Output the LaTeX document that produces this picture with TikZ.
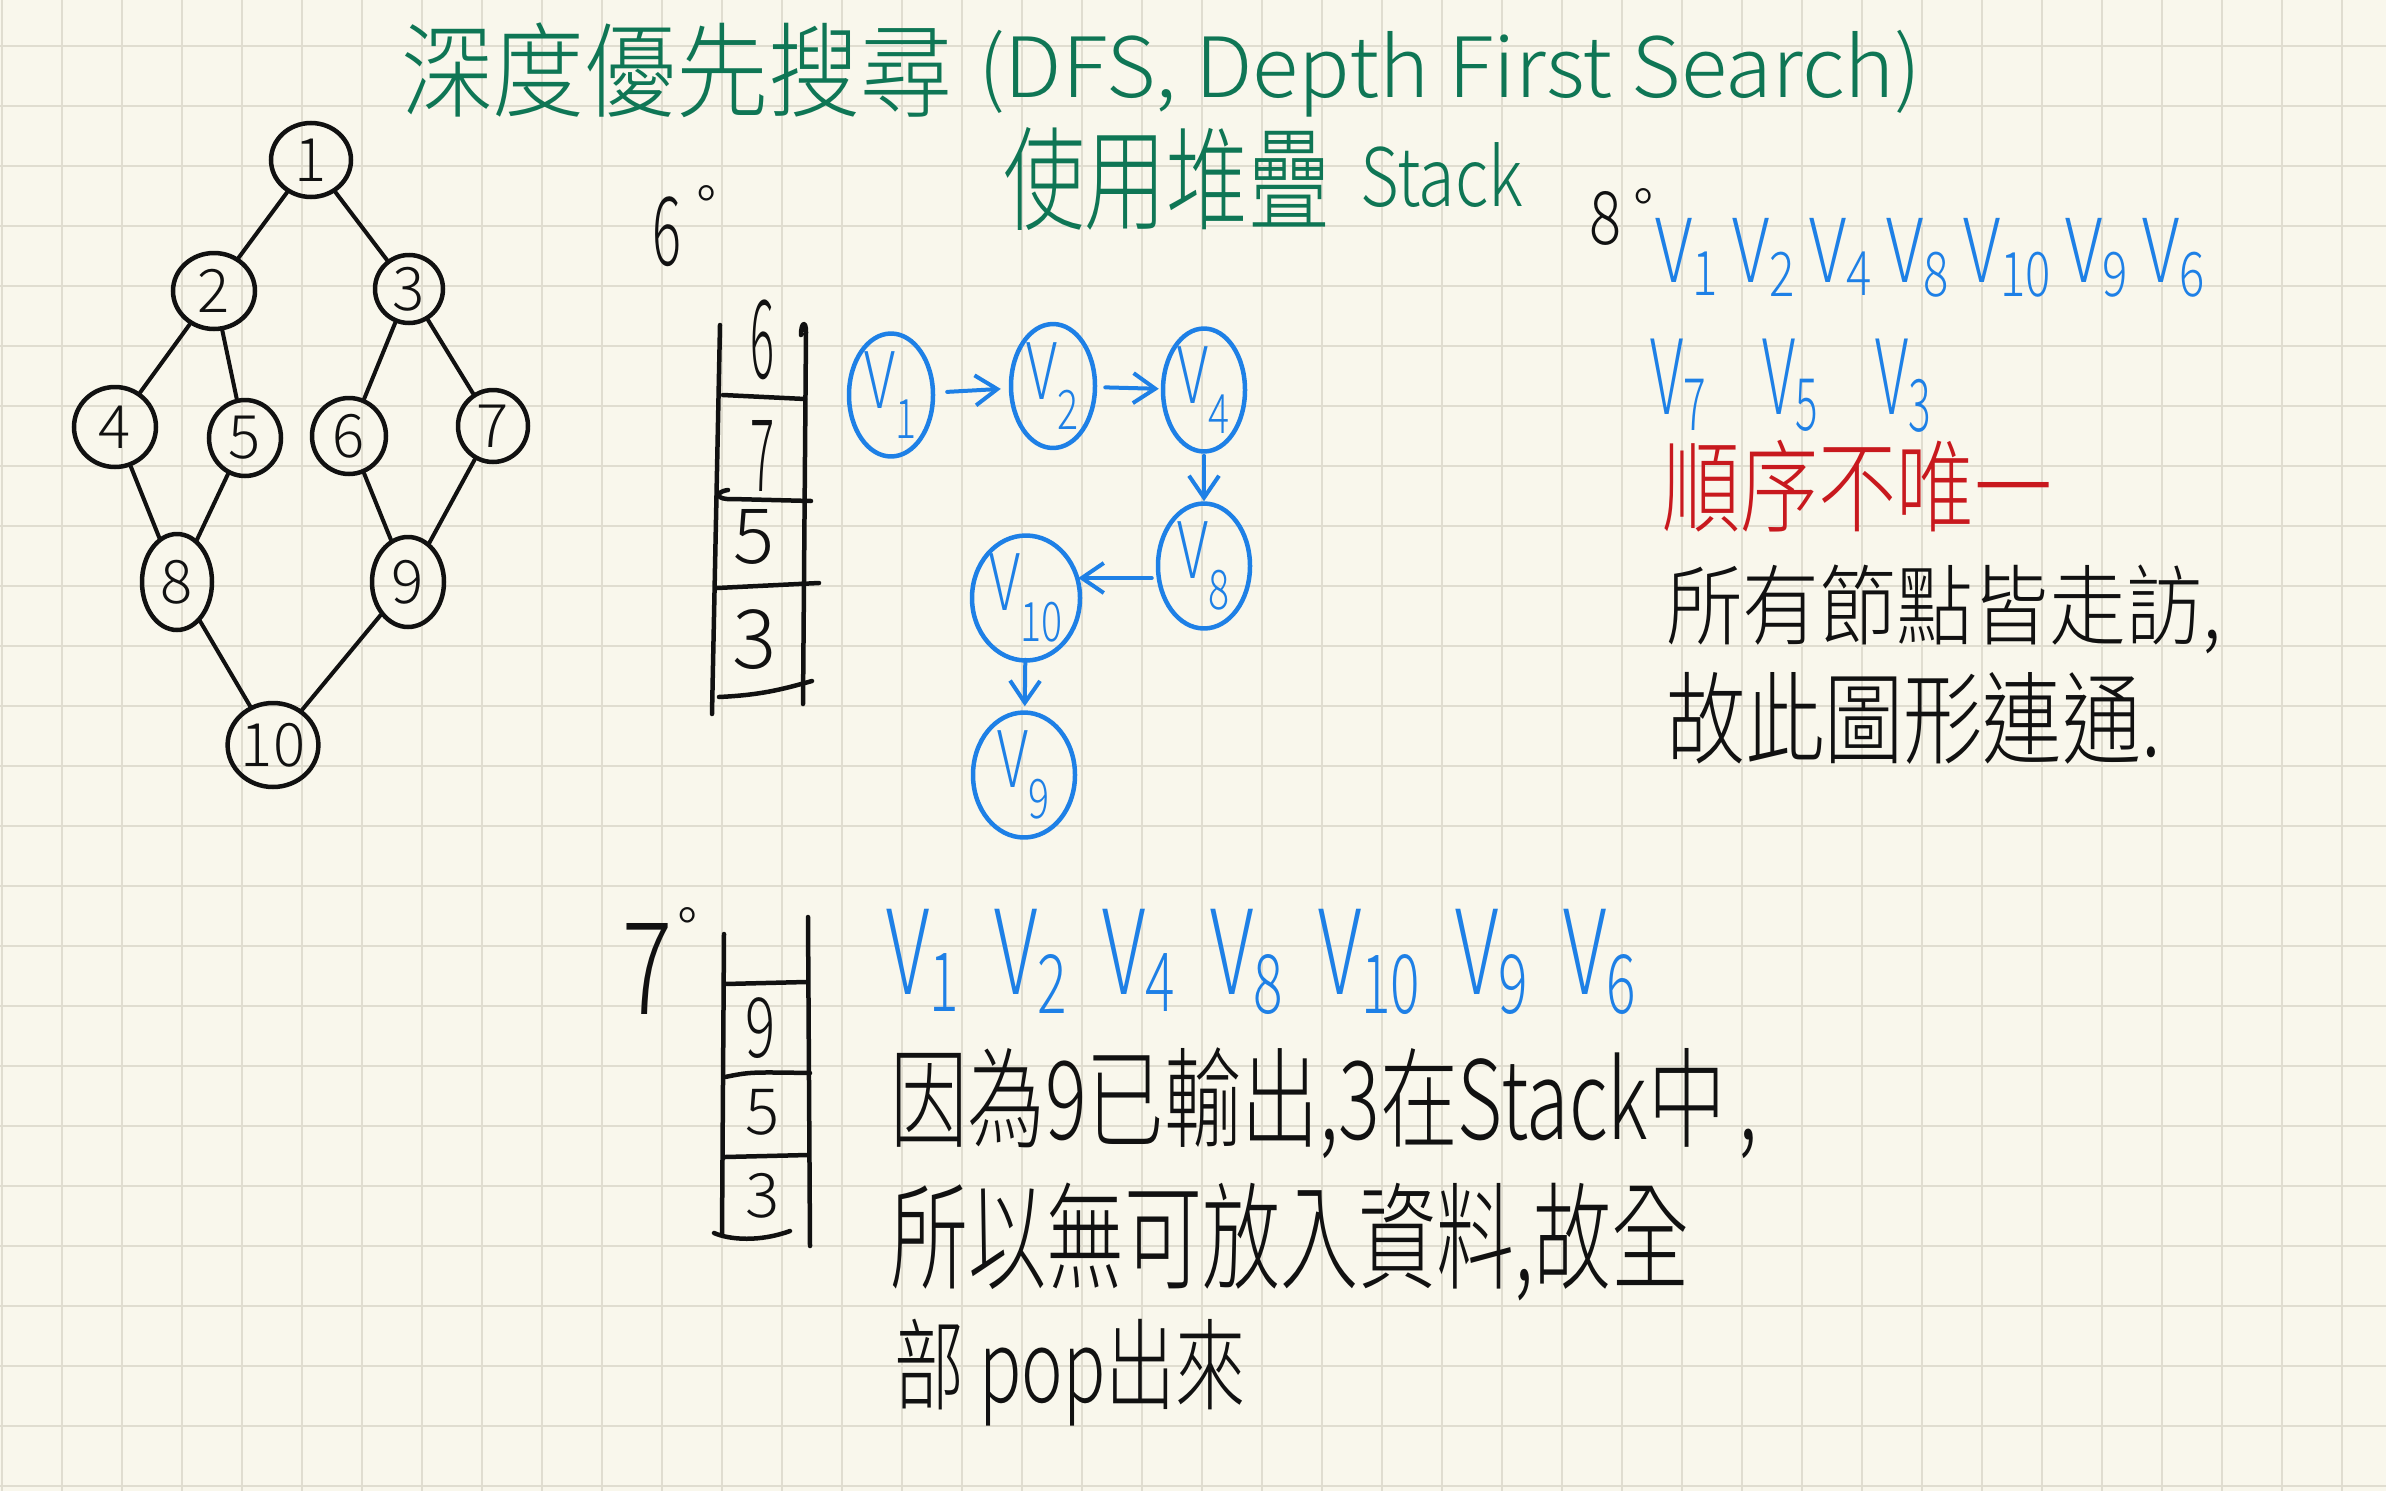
\documentclass[tikz,border=0pt]{standalone}
\usepackage{fontspec}
\usepackage{graphicx}
\IfFontExistsTF{Noto Sans CJK TC Light}
  {\setmainfont{Noto Sans CJK TC Light}}
  {\IfFontExistsTF{Noto Sans CJK TC DemiLight}
     {\setmainfont{Noto Sans CJK TC DemiLight}}
     {\setmainfont{Noto Sans CJK TC}}}
\usetikzlibrary{shapes.geometric,arrows.meta}
\definecolor{paper}{HTML}{F9F7EC}
\definecolor{gridc}{HTML}{E0DDD0}
\definecolor{titleg}{HTML}{0F7655}
\definecolor{penblue}{HTML}{1E80E6}
\definecolor{penred}{HTML}{C8191E}
\definecolor{ink}{HTML}{111111}
\newcommand\fitbox[3]{\resizebox*{#1pt}{#2pt}{#3}}
\newcommand\Vs[1]{V\textsubscript{#1}}
\newcommand\Vlab[1]{\scalebox{0.72}[1]{\Vs{#1}}}
\begin{document}
\begin{tikzpicture}[x=1pt,y=-1pt,
  txt/.style={inner sep=0pt,outer sep=0pt,anchor=north west},
  deg/.style={inner sep=0pt,outer sep=0pt,anchor=north,text=ink,font=\fontsize{58}{58}\selectfont},
  tnode/.style={ellipse,draw=ink,line width=4.5pt,inner sep=0pt,text=ink,font=\fontsize{60}{60}\selectfont},
  tedge/.style={draw=ink,line width=4pt,line cap=round},
  bnode/.style={ellipse,draw=penblue,line width=4.5pt,inner sep=0pt,text=penblue,font=\fontsize{78}{78}\selectfont},
  barrow/.style={draw=penblue,line width=4pt,line cap=round,-{Straight Barb[length=22pt,width=30pt]}},
  pen/.style={draw=ink,line width=4.5pt,line cap=round,line join=round}]

\fill[paper] (0,0) rectangle (2386,1491);
\useasboundingbox (0,0) rectangle (2386,1491);
\foreach \i in {0,...,39} \draw[gridc,line width=2.2pt] ({2+60*\i},0) -- ++(0,1491);
\foreach \j in {0,...,24} \draw[gridc,line width=2.2pt] (0,{46+60*\j}) -- ++(2386,0);

% ---------- title ----------
\node[txt,text=titleg] (t1) at (401,23) {\fitbox{551}{95}{深度優先搜尋}};
\node[txt,text=titleg] (t2) at (978,30) {\fitbox{943}{87}{(DFS, Depth First Search)}};
\node[txt,text=titleg] (t3) at (1003,127) {\fitbox{327}{103}{使用堆疊}};
\node[txt,text=titleg] (t4) at (1360,143) {\fitbox{163}{65}{Stack}};

% ---------- tree ----------
\node[tnode,minimum width=80pt,minimum height=74pt] (n1) at (311,160) {1};
\node[tnode,minimum width=82pt,minimum height=76pt] (n2) at (214,291) {2};
\node[tnode,minimum width=68pt,minimum height=68pt] (n3) at (409,289) {3};
\node[tnode,minimum width=82pt,minimum height=80pt] (n4) at (115,427) {4};
\node[tnode,minimum width=72pt,minimum height=76pt] (n5) at (245,438) {5};
\node[tnode,minimum width=74pt,minimum height=76pt] (n6) at (349,436) {6};
\node[tnode,minimum width=70pt,minimum height=72pt] (n7) at (493,426) {7};
\node[tnode,minimum width=70pt,minimum height=96pt] (n8) at (177,582) {8};
\node[tnode,minimum width=72pt,minimum height=90pt] (n9) at (408,582) {9};
\node[tnode,minimum width=78pt,minimum height=84pt] (n10) at (273,745) {10};
\draw[tedge] (n1) -- (n2);
\draw[tedge] (n1) -- (n3);
\draw[tedge] (n2) -- (n4);
\draw[tedge] (n2) -- (n5);
\draw[tedge] (n3) -- (n6);
\draw[tedge] (n3) -- (n7);
\draw[tedge] (n4) -- (n8);
\draw[tedge] (n5) -- (n8);
\draw[tedge] (n6) -- (n9);
\draw[tedge] (n7) -- (n9);
\draw[tedge] (n8) -- (n10);
\draw[tedge] (n9) -- (n10);

% ---------- 6 degree ----------
\node[txt,text=ink] (d6) at (652,197) {\fitbox{29}{70}{6}};
\node[deg] (d6o) at (707,186) {°};
\draw[pen] (720,325) -- (712,714);
\draw[pen] (801,335) .. controls (801,322) and (806,320) .. (806,332) -- (803,704);
\draw[pen] (723,395) -- (805,399);
\draw[pen] (728,490) .. controls (714,492) and (716,500) .. (732,499) -- (811,501);
\draw[pen] (717,588) -- (819,583);
\draw[pen] (719,697) .. controls (760,695) and (780,690) .. (812,681);
\node[txt,text=ink] (s6a) at (750,300) {\fitbox{24}{80}{6}};
\node[txt,text=ink] (s6b) at (750,420) {\fitbox{24}{71}{7}};
\node[txt,text=ink] (s6c) at (733,509) {\fitbox{41}{55}{5}};
\node[txt,text=ink] (s6d) at (732,610) {\fitbox{44}{60}{3}};

% ---------- blue graph ----------
\node[bnode,minimum width=84pt,minimum height=84pt] (V1) at (891,395) {\Vlab{1}};
\node[bnode,minimum width=84pt,minimum height=88pt] (V2) at (1053,386) {\Vlab{2}};
\node[bnode,minimum width=82pt,minimum height=88pt] (V4) at (1204,390) {\Vlab{4}};
\node[bnode,minimum width=92pt,minimum height=108pt] (V8) at (1204,566) {\Vlab{8}};
\node[bnode,minimum width=108pt,minimum height=94pt] (V10) at (1026,598) {\Vlab{10}};
\node[bnode,minimum width=102pt,minimum height=114pt] (V9) at (1024,775) {\Vlab{9}};
\draw[barrow,shorten <=12pt,shorten >=8pt] (V1) -- (V2);
\draw[barrow,shorten <=8pt,shorten >=2pt] (V2) -- (V4);
\draw[barrow,shorten <=2pt] (V4) -- (V8);
\draw[barrow,shorten <=4pt,shorten >=-4pt] ([yshift=-12pt]V8.west) -- ([yshift=20pt]V10.east);
\draw[barrow,shorten <=-3pt,shorten >=4pt] (V10) -- (V9);

% ---------- 8 degree ----------
\node[txt,text=ink] (d8) at (1589,191) {\fitbox{32}{54}{8}};
\node[deg] (d8o) at (1644,189) {°};
\node[txt,text=penblue] (b1) at (1655,218) {\fitbox{553}{79}{\Vs{1}\,\Vs{2}\,\Vs{4}\,\Vs{8}\,\Vs{10}\,\Vs{9}\,\Vs{6}}};
\node[txt,text=penblue] (b2) at (1650,339) {\fitbox{284}{93}{\Vs{7}\hspace{0.9em}\Vs{5}\hspace{0.9em}\Vs{3}}};
\node[txt,text=penred] (r1) at (1662,440) {\fitbox{390}{92}{順序不唯一}};
\node[txt,text=ink] (k1) at (1666,565) {\fitbox{556}{89}{所有節點皆走訪,}};
\node[txt,text=ink] (k2) at (1666,672) {\fitbox{495}{92}{故此圖形連通.}};

% ---------- 7 degree ----------
\node[txt,text=ink] (d7) at (622,923) {\fitbox{50}{91}{7}};
\node[deg] (d7o) at (688,908) {°};
\draw[pen] (724,934) -- (722,1234);
\draw[pen] (808,917) -- (810,1246);
\draw[pen] (725,984) -- (806,982);
\draw[pen] (725,1077) .. controls (750,1072) .. (810,1073);
\draw[pen] (725,1157) -- (808,1155);
\draw[pen] (714,1233) .. controls (730,1240) and (760,1242) .. (790,1231);
\node[txt,text=ink] (s7a) at (745,998) {\fitbox{30}{61}{9}};
\node[txt,text=ink] (s7b) at (745,1089) {\fitbox{34}{46}{5}};
\node[txt,text=ink] (s7c) at (745,1173) {\fitbox{34}{45}{3}};
\node[txt,text=penblue] (b3) at (886,909) {\fitbox{754}{105}{\Vs{1}\hspace{0.4em}\Vs{2}\hspace{0.4em}\Vs{4}\hspace{0.4em}\Vs{8}\hspace{0.4em}\Vs{10}\hspace{0.4em}\Vs{9}\hspace{0.4em}\Vs{6}}};
\node[txt,text=ink] (k3) at (890,1048) {\fitbox{868}{111}{因為9已輸出,3在Stack中\,,}};
\node[txt,text=ink] (k4) at (890,1183) {\fitbox{800}{118}{所以無可放入資料,故全}};
\node[txt,text=ink] (k5) at (894,1319) {\fitbox{352}{107}{部 pop出來}};
\end{tikzpicture}
\end{document}
